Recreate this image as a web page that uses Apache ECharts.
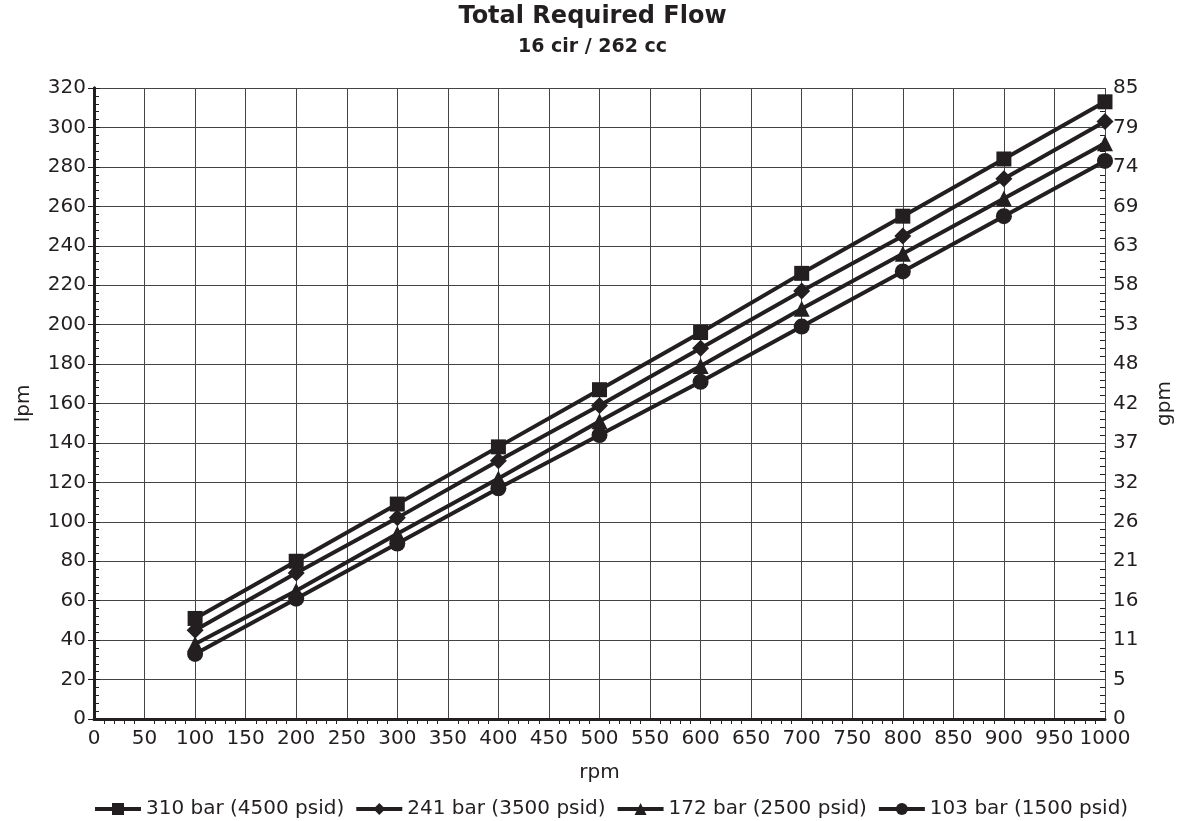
<!DOCTYPE html>
<html><head><meta charset="utf-8">
<script src="https://cdn.jsdelivr.net/npm/echarts@6/dist/echarts.min.js"></script>
<style>html,body{margin:0;padding:0;background:#fff}#c{width:1185px;height:821px}</style>
</head><body><div id="c"></div>
<script>
const rpm = [100,200,300,400,500,600,700,800,900,1000];
const s310 = [51,80,109,138,167,196,226,255,284,313];
const s241 = [45,74,102,131,159,188,217,245,274,303];
const s172 = [38,65,94,122,151,179,208,236,264,292];
const s103 = [33,61,89,117,144,171,199,227,255,283];
const seriesNames = ['310 bar (4500 psid)','241 bar (3500 psid)','172 bar (2500 psid)','103 bar (1500 psid)'];
const gpmLabels = ['0','5','11','16','21','26','32','37','42','48','53','58','63','69','74','79','85'];

const C = '#231f20';
const font = 'DejaVu Sans, sans-serif';
const chart = echarts.init(document.getElementById('c'));
const grid = {left:94, right:80, top:88, bottom:102};
function mkSeries(name, data, sym, size){
  return {name, type:'line', data: rpm.map((x,i)=>[x,data[i]]), symbol:sym, symbolSize:size,
    lineStyle:{color:C,width:4}, itemStyle:{color:C}, showSymbol:true};
}
chart.setOption({
  animation:false,
  title:{text:'Total Required Flow', subtext:'16 cir / 262 cc', left:'center', top:0,
    textStyle:{fontFamily:font,fontWeight:'bold',fontSize:24,color:C},
    subtextStyle:{fontFamily:font,fontWeight:'bold',fontSize:19,color:C}, itemGap:9},
  legend:{top:794, left:88, itemWidth:46, itemHeight:15, itemGap:10,
    lineStyle:{width:4},
    textStyle:{fontFamily:font,fontSize:20,color:C}, data:seriesNames},
  grid,
  xAxis:[{type:'value', min:0, max:1000, interval:50, name:'rpm', nameLocation:'middle', nameGap:44,
    nameTextStyle:{fontFamily:font,fontSize:20,color:C},
    axisLine:{show:true,lineStyle:{color:C,width:3}}, axisTick:{show:false},
    minorTick:{show:true,splitNumber:5,length:5,lineStyle:{color:C,width:1}},
    axisLabel:{fontFamily:font,fontSize:20,color:C,margin:10,formatter:(v)=>String(v)},
    splitLine:{show:true,lineStyle:{color:'#444',width:1}}},
    {type:'value', position:'top', min:0, max:1000, interval:50, axisLine:{show:true,lineStyle:{color:C,width:2}},
     axisTick:{show:false}, axisLabel:{show:false}, splitLine:{show:false}}],
  yAxis:[{type:'value', min:0, max:320, interval:20, name:'lpm', nameLocation:'middle', nameGap:60,
    nameTextStyle:{fontFamily:font,fontSize:20,color:C},
    axisLine:{show:true,lineStyle:{color:C,width:3}},
    axisTick:{show:true,length:6,lineStyle:{color:C,width:1}},
    axisLabel:{fontFamily:font,fontSize:20,color:C,margin:8},
    splitLine:{show:true,lineStyle:{color:'#444',width:1}}},
    {type:'value', position:'right', min:0, max:320, interval:20, name:'gpm', nameLocation:'middle', nameGap:50,
    nameTextStyle:{fontFamily:font,fontSize:20,color:C},
    axisLine:{show:true,lineStyle:{color:C,width:3}},
    axisTick:{show:true,length:6,lineStyle:{color:C,width:1}},
    axisLabel:{fontFamily:font,fontSize:20,color:C,margin:8,formatter:(v)=>gpmLabels[Math.round(v/20)]},
    splitLine:{show:false}},
    {type:'value', position:'left', min:0, max:320, interval:20, axisLine:{show:false},
     axisTick:{show:false,inside:true}, axisLabel:{show:false}, splitLine:{show:false},
     minorTick:{show:true,splitNumber:5,length:5,lineStyle:{color:C,width:1}}},
    {type:'value', position:'right', min:0, max:320, interval:20, axisLine:{show:false},
     axisTick:{show:false,inside:true}, axisLabel:{show:false}, splitLine:{show:false},
     minorTick:{show:true,splitNumber:5,length:5,lineStyle:{color:C,width:1}}}
  ],
  series:[mkSeries(seriesNames[0],s310,'rect',15), mkSeries(seriesNames[1],s241,'diamond',17),
    mkSeries(seriesNames[2],s172,'triangle',16), mkSeries(seriesNames[3],s103,'circle',16)]
});
</script></body></html>
